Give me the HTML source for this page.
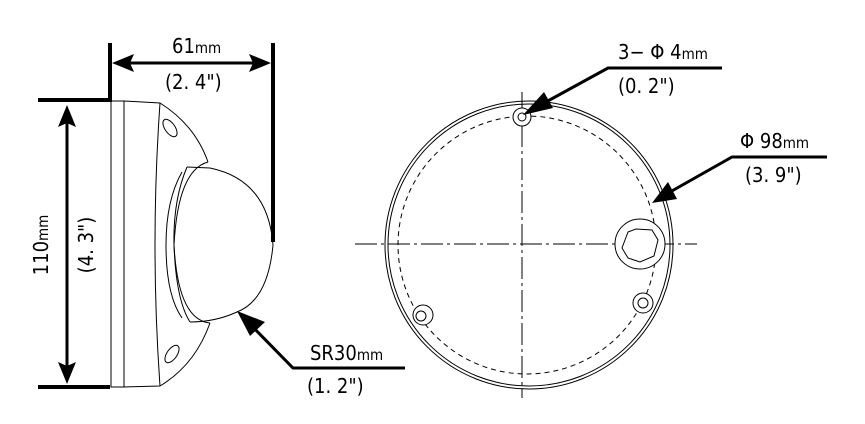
<!DOCTYPE html>
<html><head><meta charset="utf-8"><style>
html,body{margin:0;padding:0;background:#fff;}
svg{display:block;}
text{font-family:"DejaVu Sans Condensed","Liberation Sans Narrow","Liberation Sans",sans-serif;fill:#000;}
</style></head><body>
<svg width="865" height="424" viewBox="0 0 865 424" xmlns="http://www.w3.org/2000/svg">
<g stroke="#000" fill="none">
<polyline points="38,100 110,100 110,43" stroke-width="4"/>
<line x1="38" y1="387" x2="110" y2="387" stroke-width="4"/>
<line x1="273" y1="43" x2="273" y2="242" stroke-width="4"/>
<line x1="125" y1="63" x2="255" y2="63" stroke-width="3"/>
<line x1="67" y1="120" x2="67" y2="370" stroke-width="3"/>
<g stroke-width="1">
<rect x="111" y="101" width="13" height="286"/>
<path d="M124,101 L160,103 Q195,125 208,162"/>
<path d="M124,387 L160,386 Q195,365 210,323"/>
<path d="M160,103 Q150,245 160,386"/>
<path d="M208,162 Q178,170 174,245 Q178,320 210,323"/>
<path d="M187,167 Q173,200 174,245 Q176,300 190,322"/>
<path d="M187,167 L210,168 Q268,180 273,245 Q268,300 237,312 Q215,322 190,322"/>
<path d="M182,172 Q166,200 166,245 Q166,295 182,318"/>
<ellipse cx="170" cy="128" rx="5" ry="10" transform="rotate(-35 170 128)"/>
<ellipse cx="172" cy="354" rx="5" ry="10" transform="rotate(35 172 354)"/>
</g>
<polyline points="244,318 293,368 405,368" stroke-width="3"/>
<g stroke-width="1">
<circle cx="529" cy="245" r="144"/>
<circle cx="529" cy="245" r="141"/>
<circle cx="527" cy="245" r="129" stroke-dasharray="5,4"/>
<line x1="355" y1="244" x2="697" y2="244" stroke-dasharray="22,4,3,4"/>
<line x1="522" y1="92" x2="522" y2="398" stroke-dasharray="22,4,3,4"/>
<circle cx="522" cy="117" r="9" fill="#fff"/>
<circle cx="522" cy="117" r="4"/>
<circle cx="423" cy="315" r="10" fill="#fff"/>
<circle cx="421" cy="316" r="5"/>
<circle cx="643" cy="303" r="10" fill="#fff"/>
<circle cx="643" cy="303" r="5"/>
<circle cx="640" cy="244" r="25" fill="#fff"/>
<path d="M628,232 L636,229 L652,230 L658,240 L654,256 L640,262 L628,258 L622,248 L625,240 Z"/>
</g>
<polyline points="535,108 608,68 722,68" stroke-width="3"/>
<polyline points="663,196 732,157 827,157" stroke-width="3"/>
</g>
<g fill="#000">
<polygon points="112,63 134,54 130,63 134,72"/>
<polygon points="271,63 249,54 253,63 249,72"/>
<polygon points="67,105 58,127 67,123 76,127"/>
<polygon points="67,384 58,362 67,366 76,362"/>
<polygon points="237,311 265,322 250,336"/>
<polygon points="523,115 544,92 553,108"/>
<polygon points="652,203 668,182 677,199"/>
</g>
<g font-size="20">
<text x="172" y="53">61<tspan font-size="15">mm</tspan></text>
<text x="165" y="89">(2. 4")</text>
<text x="310" y="360">SR30<tspan font-size="15">mm</tspan></text>
<text x="307" y="393">(1. 2")</text>
<text x="618" y="59">3− Φ 4<tspan font-size="15">mm</tspan></text>
<text x="618" y="93">(0. 2")</text>
<text x="740" y="148">Φ 98<tspan font-size="15">mm</tspan></text>
<text x="745" y="182">(3. 9")</text>
<text transform="translate(48,245) rotate(-90)" text-anchor="middle">110<tspan font-size="15">mm</tspan></text>
<text transform="translate(93,245) rotate(-90)" text-anchor="middle">(4. 3")</text>
</g>
</svg>
</body></html>
